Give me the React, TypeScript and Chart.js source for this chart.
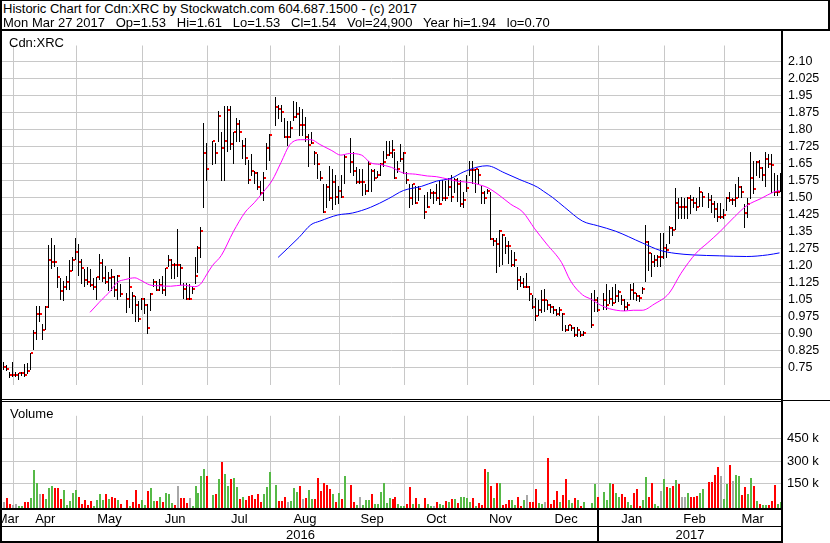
import React, { useEffect, useRef } from "react";
import { Chart, registerables } from "chart.js";

Chart.register(...registerables);

const FONT = 'Arial, "Liberation Sans", Helvetica, sans-serif';

// ---- daily bars (one slot per weekday, null = market holiday) ----
const highs: (number | null)[] = [
  0.777, 0.760, 0.730, 0.777, 0.730, 0.726, 0.730, 0.766, 0.770, 0.815,
  0.915, 1.023, 1.023, 0.942, 1.023, 1.290, 1.320, 1.290, 1.193, 1.145,
  1.132, 1.152, 1.224, 1.240, 1.321, 1.294, 1.227, 1.186, 1.193, 1.186,
  1.145, 1.149, 1.251, 1.227, 1.199, 1.172, 1.186, 1.156, 1.157, 1.118,
  null, 1.078, 1.240, 1.085, 1.064, 1.044, 1.057, 1.057, 1.030, 1.078,
  1.139, 1.132, 1.139, 1.152, 1.190, 1.247, 1.227, 1.213, 1.362, 1.206,
  1.125, 1.125, 1.118, 1.112, 1.240, 1.287, 1.369, 1.829, 1.741, null,
  1.750, 1.741, 1.883, 1.788, 1.903, 1.903, 1.903, 1.788, 1.849, 1.842,
  1.754, 1.761, 1.666, 1.694, 1.619, 1.612, 1.572, 1.612, 1.741, 1.781,
  null, 1.944, 1.910, 1.910, 1.849, 1.836, 1.836, 1.924, 1.920, 1.897,
  1.890, 1.856, 1.782, 1.788, 1.707, 1.694, 1.619, 1.558, 1.558, 1.640,
  1.626, 1.599, 1.551, 1.599, 1.694, null, 1.761, 1.700, 1.633, 1.626,
  1.626, 1.558, 1.660, 1.626, 1.626, 1.619, 1.653, 1.707, 1.748, 1.748,
  1.755, 1.700, 1.660, 1.734, 1.700, 1.612, 1.558, 1.558, 1.551, 1.551,
  null, 1.511, 1.524, 1.538, 1.531, 1.558, 1.578, 1.578, 1.572, 1.585,
  1.599, 1.585, 1.585, 1.578, 1.524, 1.600, 1.660, 1.660, 1.626, 1.626,
  1.551, 1.531, 1.538, 1.525, 1.321, 1.321, 1.355, 1.340, 1.328, 1.308,
  1.267, 1.260, 1.193, 1.152, 1.145, 1.166, 1.112, 1.071, 1.057, 1.048,
  1.091, 1.098, 1.050, 1.030, 1.020, 1.010, 1.017, 0.990, 0.940, 0.940,
  0.940, 0.929, 0.929, 0.910, 0.910, null, null, 1.080, 1.091, 1.060,
  null, 1.078, 1.118, 1.094, 1.105, 1.118, 1.091, 1.070, 1.051, 1.040,
  1.118, 1.121, 1.080, 1.070, 1.105, 1.378, 1.308, 1.254, 1.247, 1.247,
  1.342, 1.342, 1.294, 1.375, 1.369, 1.541, 1.497, 1.504, 1.497, 1.504,
  1.511, 1.504, 1.497, 1.545, 1.524, null, 1.518, 1.511, 1.484, 1.477,
  1.477, 1.450, 1.504, 1.524, 1.497, 1.558, 1.592, 1.551, 1.470, 1.497,
  1.700, 1.660, 1.660, 1.666, 1.633, 1.700, 1.693, 1.693, 1.606, 1.599,
  1.610,
];

const lows: (number | null)[] = [
  0.746, 0.740, 0.710, 0.712, 0.712, 0.699, 0.718, 0.712, 0.726, 0.746,
  0.834, 0.875, 0.956, 0.875, 0.922, 1.017, 1.190, 1.200, 1.105, 1.051,
  1.048, 1.098, 1.098, 1.179, 1.227, 1.159, 1.125, 1.112, 1.118, 1.112,
  1.098, 1.051, 1.139, 1.132, 1.125, 1.091, 1.091, 1.064, 1.051, 1.064,
  null, 0.996, 1.017, 0.990, 0.956, 0.956, 1.010, 0.990, 0.904, 1.003,
  1.112, 1.091, 1.091, 1.078, 1.071, 1.199, 1.145, 1.145, 1.152, 1.118,
  1.057, 1.051, 1.051, 1.078, 1.125, 1.172, 1.240, 1.457, 1.579, null,
  1.646, 1.653, 1.748, 1.578, 1.578, 1.707, 1.714, 1.653, 1.748, 1.748,
  1.673, 1.646, 1.565, 1.599, 1.565, 1.538, 1.511, 1.490, 1.626, 1.666,
  null, 1.819, 1.849, 1.836, 1.768, 1.730, 1.768, 1.842, 1.856, 1.777,
  1.777, 1.748, 1.640, 1.741, 1.646, 1.585, 1.578, 1.436, 1.457, 1.491,
  1.450, 1.470, 1.477, 1.504, 1.565, null, 1.612, 1.599, 1.565, 1.565,
  1.511, 1.517, 1.531, 1.531, 1.578, 1.592, 1.599, 1.640, 1.673, 1.687,
  1.680, 1.585, 1.612, 1.660, 1.606, 1.565, 1.457, 1.470, 1.477, 1.491,
  null, 1.409, 1.457, 1.497, 1.477, 1.490, 1.470, 1.490, 1.491, 1.511,
  1.484, 1.524, 1.484, 1.463, 1.457, 1.530, 1.599, 1.565, 1.524, 1.565,
  1.477, 1.477, 1.518, 1.315, 1.290, 1.170, 1.200, 1.206, 1.254, 1.213,
  1.200, 1.200, 1.098, 1.112, 1.105, 1.105, 1.048, 1.013, 0.959, 0.983,
  0.994, 0.999, 1.010, 0.996, 0.990, 0.980, 0.983, 0.915, 0.910, 0.915,
  0.915, 0.891, 0.888, 0.890, 0.895, null, null, 0.930, 1.000, 1.000,
  null, 1.010, 1.010, 1.037, 1.026, 1.040, 1.044, 1.030, 1.006, 1.010,
  1.051, 1.053, 1.050, 1.045, 1.078, 1.132, 1.179, 1.152, 1.200, 1.200,
  1.200, 1.233, 1.240, 1.301, 1.335, 1.362, 1.409, 1.409, 1.409, 1.409,
  1.430, 1.457, 1.443, 1.464, 1.464, null, 1.457, 1.436, 1.416, 1.396,
  1.409, 1.409, 1.443, 1.484, 1.470, 1.463, 1.504, 1.504, 1.369, 1.416,
  1.497, 1.518, 1.600, 1.592, 1.579, 1.551, 1.633, 1.524, 1.511, 1.511,
  1.530,
];

const closes: (number | null)[] = [
  0.753, 0.745, 0.718, 0.718, 0.718, 0.726, 0.726, 0.718, 0.737, 0.815,
  0.904, 0.986, 0.986, 0.915, 1.017, 1.224, 1.216, 1.216, 1.148, 1.087,
  1.107, 1.128, 1.176, 1.224, 1.258, 1.217, 1.189, 1.136, 1.128, 1.116,
  1.107, 1.148, 1.213, 1.145, 1.128, 1.145, 1.148, 1.094, 1.155, 1.074,
  null, 1.053, 1.107, 1.067, 1.026, 0.965, 1.053, 1.026, 0.925, 1.075,
  1.128, 1.094, 1.116, 1.094, 1.189, 1.224, 1.204, 1.204, 1.204, 1.189,
  1.095, 1.053, 1.053, 1.095, 1.156, 1.278, 1.354, 1.696, 1.626, null,
  1.749, 1.696, 1.859, 1.717, 1.749, 1.887, 1.737, 1.788, 1.825, 1.788,
  1.727, 1.676, 1.579, 1.619, 1.608, 1.545, 1.518, 1.585, 1.717, 1.777,
  null, 1.899, 1.890, 1.879, 1.768, 1.768, 1.806, 1.856, 1.870, 1.818,
  1.818, 1.768, 1.730, 1.741, 1.696, 1.646, 1.585, 1.436, 1.545, 1.497,
  1.568, 1.504, 1.527, 1.504, 1.680, null, 1.656, 1.619, 1.568, 1.568,
  1.568, 1.527, 1.646, 1.619, 1.588, 1.599, 1.646, 1.656, 1.687, 1.696,
  1.710, 1.585, 1.626, 1.669, 1.696, 1.578, 1.497, 1.558, 1.477, 1.538,
  null, 1.436, 1.457, 1.518, 1.518, 1.497, 1.470, 1.497, 1.497, 1.547,
  1.504, 1.578, 1.561, 1.470, 1.491, 1.541, 1.622, 1.622, 1.626, 1.599,
  1.518, 1.497, 1.527, 1.317, 1.308, 1.297, 1.354, 1.335, 1.288, 1.288,
  1.202, 1.224, 1.135, 1.125, 1.107, 1.107, 1.075, 1.017, 0.976, 1.006,
  1.047, 1.047, 1.026, 1.017, 1.006, 0.986, 1.006, 0.986, 0.915, 0.936,
  0.925, 0.895, 0.915, 0.895, 0.902, null, null, 0.940, 1.047, 1.006,
  null, 1.047, 1.026, 1.053, 1.033, 1.064, 1.084, 1.047, 1.017, 1.026,
  1.094, 1.078, 1.067, 1.055, 1.095, 1.304, 1.256, 1.216, 1.224, 1.236,
  1.236, 1.278, 1.267, 1.367, 1.355, 1.477, 1.457, 1.457, 1.457, 1.497,
  1.490, 1.477, 1.457, 1.524, 1.504, null, 1.490, 1.470, 1.450, 1.416,
  1.416, 1.423, 1.497, 1.490, 1.490, 1.497, 1.547, 1.524, 1.430, 1.470,
  1.588, 1.538, 1.656, 1.629, 1.599, 1.669, 1.649, 1.642, 1.524, 1.524,
  1.540,
];

// volume in thousands of shares
const volumeK: (number | null)[] = [
  25, 54, 14, 10, 16, 2, 2, 25, 25, 54,
  239, 157, 78, 78, 49, 122, 136, 118, 118, 49,
  107, 10, 35, 89, 107, 64, 14, 41, 6, 35,
  2, 41, 78, 41, 83, 49, 60, 54, 41, 16,
  null, 41, 2, 29, 107, 16, 39, 10, 99, 122,
  35, 35, 58, 29, 87, 78, 19, 10, 136, 54,
  54, 19, 54, 1, 136, 87, 204, 250, 198, null,
  72, 81, 180, 297, 215, 136, 180, 186, 128, 45,
  64, 41, 70, 74, 45, 81, 25, 81, 128, 227,
  null, 142, 35, 35, 64, 29, 35, 122, 93, 134,
  49, 54, 107, 49, 49, 186, 99, 157, 142, 111,
  81, 29, 87, 49, 198, null, 138, 29, 10, 64,
  10, 41, 39, 81, 14, 14, 97, 157, 23, 52,
  47, 64, 12, 2, 2, 14, 128, 12, 54, 14,
  null, 52, 16, 1, 1, 29, 16, 6, 35, 25,
  45, 45, 19, 58, 58, 54, 25, 52, 2, 19,
  6, 250, 227, 134, 52, 151, 151, 6, 12, 41,
  41, 10, 64, 2, 41, 76, 29, 25, 116, 21,
  17, 29, 320, 12, 39, 99, 29, 76, 180, 41,
  19, 56, 41, 1, 29, null, null, 23, 146, 58,
  null, 93, 41, 155, 146, 87, 58, 81, 58, 29,
  6, 87, 116, 2, 41, 192, 64, 157, 17, 2,
  99, 180, 128, 122, 134, 177, 146, 58, 58, 87,
  64, 64, 70, 87, 116, null, 163, 163, 210, 262,
  204, 47, 146, 274, 169, 210, 204, 76, 128, 81,
  186, 134, 35, 12, 6, 6, 6, 35, 140, 12,
  25,
];

// u = close up, d = close down, n = unchanged, - = no trading
const volumeDir =
  "nddnnuuddu" + "uunduuuddd" + "uuuuuddddd" + "uuuududdud" +
  "-duddduudu" + "ududuuudnd" + "ddnuuuuud-" + "ududuuduud" +
  "udddddduuu" + "-udddnuuud" + "nduudddddd" + "ududu-ddun" +
  "uuuduuuuuu" + "dduuuddudu" + "-duunduudu" + "duduuuudud" +
  "ddudududdd" + "uuddundddu" + "undddduddu" + "ududu--uud" +
  "-uuuduuddu" + "uddduudduu" + "nudududnnu" + "ddduu-dddd" +
  "nuudnuuddu" + "ududuuddduu";

// moving averages (read at sample days)
const fastMaSlots = [29, 32, 36, 38, 41, 44, 46, 49, 52, 56, 60, 64, 66, 68, 70, 73, 77, 81, 84, 87, 90, 93, 96, 100, 103, 106, 110, 113, 116, 120, 123, 126, 130, 134, 138, 142, 145, 149, 152, 157, 160, 162, 166, 170, 174, 178, 182, 187, 190, 194, 197, 200, 203, 208, 211, 214, 218, 223, 227, 232, 236, 240, 245, 249, 254, 258, 260];
const fastMaValues = [0.994, 1.037, 1.091, 1.125, 1.139, 1.146, 1.135, 1.115, 1.111, 1.109, 1.114, 1.107, 1.118, 1.159, 1.200, 1.245, 1.349, 1.436, 1.477, 1.524, 1.575, 1.655, 1.734, 1.755, 1.755, 1.734, 1.707, 1.687, 1.694, 1.687, 1.653, 1.646, 1.633, 1.608, 1.603, 1.595, 1.592, 1.581, 1.572, 1.565, 1.554, 1.545, 1.511, 1.470, 1.436, 1.362, 1.295, 1.213, 1.132, 1.071, 1.051, 1.026, 1.010, 1.000, 1.003, 1.003, 1.030, 1.078, 1.166, 1.254, 1.301, 1.349, 1.416, 1.464, 1.497, 1.524, 1.531];
const slowMaSlots = [92, 99, 103, 106, 112, 117, 123, 129, 134, 140, 145, 150, 154, 159, 162, 168, 173, 179, 181, 184, 188, 194, 199, 205, 214, 220, 225, 231, 240, 249, 256, 260];
const slowMaValues = [1.236, 1.324, 1.380, 1.396, 1.423, 1.432, 1.457, 1.495, 1.531, 1.549, 1.572, 1.585, 1.612, 1.635, 1.640, 1.608, 1.579, 1.545, 1.527, 1.500, 1.457, 1.396, 1.376, 1.352, 1.300, 1.267, 1.254, 1.247, 1.243, 1.240, 1.247, 1.256];

// axes
const priceTicks = [0.75, 0.825, 0.9, 0.975, 1.05, 1.125, 1.2, 1.275, 1.35, 1.425, 1.5, 1.575, 1.65, 1.725, 1.8, 1.875, 1.95, 2.025, 2.1];
const priceTickLabels = ["0.75", "0.825", "0.90", "0.975", "1.05", "1.125", "1.20", "1.275", "1.35", "1.425", "1.50", "1.575", "1.65", "1.725", "1.80", "1.875", "1.95", "2.025", "2.10"];
const volumeTicks = [150, 300, 450];
const volumeTickLabels = ["150 k", "300 k", "450 k"];
const monthLabels = ["Mar", "Apr", "May", "Jun", "Jul", "Aug", "Sep", "Oct", "Nov", "Dec", "Jan", "Feb", "Mar"];
const monthStart = [0, 4, 25, 47, 69, 90, 113, 135, 156, 178, 200, 222, 242];
const yearLabels = ["2016", "2017"];
const yearStart = [0, 200];

const SLOTS = highs.length;
const PRICE_MIN = 0.6757;
const PRICE_MAX = 2.1703;
const VOL_MIN = -12.5;
const VOL_MAX = 602.6;
const GRID = "#c8c8c8";
const DIR_COLOR: Record<string, string> = { u: "#56b947", d: "#ff0000", n: "#a8a8a8" };

const xScale = () => ({
  type: "linear" as const,
  min: -0.5,
  max: SLOTS - 0.5,
  afterBuildTicks: (s: any) => {
    s.ticks = monthStart.slice(1).map((v) => ({ value: v - 0.5 }));
  },
  afterFit: (s: any) => {
    s.height = 0;
  },
  ticks: { display: false, autoSkip: false },
  grid: { color: GRID, lineWidth: 1, drawTicks: false },
  border: { display: false },
});

const barsPlugin = {
  id: "hlcBars",
  beforeDatasetsDraw(chart: any) {
    const { ctx, scales } = chart;
    const x = scales.x;
    const y = scales.y;
    ctx.save();
    for (let i = 0; i < SLOTS; i++) {
      const h = highs[i];
      const l = lows[i];
      const c = closes[i];
      if (h == null || l == null || c == null) continue;
      const px = Math.round(x.getPixelForValue(i));
      const yh = Math.round(y.getPixelForValue(h));
      const yl = Math.round(y.getPixelForValue(l));
      const yc = Math.round(y.getPixelForValue(c));
      ctx.fillStyle = "#000";
      ctx.fillRect(px, yh, 1, Math.max(1, yl - yh + 1));
      ctx.fillStyle = "#ff0000";
      ctx.fillRect(px + 1, yc - 1, 2, 2);
    }
    ctx.restore();
  },
};

const volumePlugin = {
  id: "volumeBars",
  beforeDatasetsDraw(chart: any) {
    const { ctx, scales } = chart;
    const x = scales.x;
    const y = scales.y;
    const base = Math.round(y.getPixelForValue(VOL_MIN));
    ctx.save();
    for (let i = 0; i < SLOTS; i++) {
      const v = volumeK[i];
      if (v == null) continue;
      const px = Math.round(x.getPixelForValue(i));
      const top = Math.round(y.getPixelForValue(v));
      ctx.fillStyle = DIR_COLOR[volumeDir[i]] || DIR_COLOR.n;
      ctx.fillRect(px, top, 2, Math.max(1, base - top));
    }
    ctx.restore();
  },
};

const dateLabelPlugin = {
  id: "dateLabels",
  afterDraw(chart: any) {
    const { ctx, chartArea, scales } = chart;
    const x = scales.x;
    const end = SLOTS - 0.5;
    ctx.save();
    ctx.beginPath();
    ctx.rect(chartArea.left, chartArea.bottom, chartArea.right - chartArea.left, chart.height - chartArea.bottom);
    ctx.clip();
    ctx.fillStyle = "#000";
    ctx.textAlign = "center";
    ctx.textBaseline = "alphabetic";
    ctx.font = `13px ${FONT}`;
    monthLabels.forEach((m, i) => {
      const a = monthStart[i] - 0.5;
      const b = i + 1 < monthStart.length ? monthStart[i + 1] - 0.5 : end;
      ctx.fillText(m, x.getPixelForValue((a + b) / 2), chartArea.bottom + 15);
    });
    yearLabels.forEach((yl, i) => {
      const a = yearStart[i] - 0.5;
      const b = i + 1 < yearStart.length ? yearStart[i + 1] - 0.5 : end;
      ctx.fillText(yl, x.getPixelForValue((a + b) / 2), chartArea.bottom + 31);
    });
    for (let k = 1; k < yearStart.length; k++) {
      const px = Math.floor(x.getPixelForValue(yearStart[k] - 0.5)) - 1;
      ctx.fillRect(px, chartArea.bottom, 2, chart.height - chartArea.bottom);
    }
    ctx.restore();
  },
};

function priceConfig(): any {
  return {
    type: "line",
    data: {
      datasets: [
        {
          label: "Fast MA",
          data: fastMaSlots.map((s, i) => ({ x: s, y: fastMaValues[i] })),
          borderColor: "#ff00ff",
          borderWidth: 1,
          pointRadius: 0,
          cubicInterpolationMode: "monotone",
          fill: false,
        },
        {
          label: "Slow MA",
          data: slowMaSlots.map((s, i) => ({ x: s, y: slowMaValues[i] })),
          borderColor: "#0000ff",
          borderWidth: 1,
          pointRadius: 0,
          cubicInterpolationMode: "monotone",
          fill: false,
        },
      ],
    },
    options: {
      animation: false,
      responsive: false,
      devicePixelRatio: 1,
      events: [],
      layout: { padding: { left: 2, right: 0, top: 0, bottom: 0 } },
      plugins: { legend: { display: false }, tooltip: { enabled: false } },
      scales: {
        x: xScale(),
        y: {
          type: "linear",
          position: "right",
          min: PRICE_MIN,
          max: PRICE_MAX,
          afterBuildTicks: (s: any) => {
            s.ticks = priceTicks.map((v) => ({ value: v }));
          },
          afterFit: (s: any) => {
            s.width = 49;
          },
          ticks: {
            autoSkip: false,
            padding: 7,
            color: "#000",
            font: { family: FONT, size: 12.5 },
            callback: (_v: any, i: number) => priceTickLabels[i],
          },
          grid: { color: GRID, lineWidth: 1, drawTicks: false },
          border: { display: false },
        },
      },
    },
    plugins: [barsPlugin],
  };
}

function volumeConfig(): any {
  return {
    type: "line",
    data: { datasets: [] },
    options: {
      animation: false,
      responsive: false,
      devicePixelRatio: 1,
      events: [],
      layout: { padding: { left: 2, right: 0, top: 0, bottom: 35 } },
      plugins: { legend: { display: false }, tooltip: { enabled: false } },
      scales: {
        x: xScale(),
        y: {
          type: "linear",
          position: "right",
          min: VOL_MIN,
          max: VOL_MAX,
          afterBuildTicks: (s: any) => {
            s.ticks = volumeTicks.map((v) => ({ value: v }));
          },
          afterFit: (s: any) => {
            s.width = 49;
          },
          ticks: {
            autoSkip: false,
            padding: 6,
            color: "#000",
            font: { family: FONT, size: 13 },
            callback: (_v: any, i: number) => volumeTickLabels[i],
          },
          grid: { color: GRID, lineWidth: 1, drawTicks: false },
          border: { display: false },
        },
      },
    },
    plugins: [volumePlugin, dateLabelPlugin],
  };
}

const line = (left: number, top: number, width: number, height: number): React.CSSProperties => ({
  position: "absolute",
  left,
  top,
  width,
  height,
  background: "#000",
});

const textStyle = (left: number, top: number): React.CSSProperties => ({
  position: "absolute",
  left,
  top,
  fontSize: 13,
  lineHeight: "13px",
  whiteSpace: "pre",
  fontFamily: FONT,
  color: "#000",
});

export default function App() {
  const priceRef = useRef<HTMLCanvasElement>(null);
  const volRef = useRef<HTMLCanvasElement>(null);

  useEffect(() => {
    const pc = new Chart(priceRef.current as HTMLCanvasElement, priceConfig());
    const vc = new Chart(volRef.current as HTMLCanvasElement, volumeConfig());
    return () => {
      pc.destroy();
      vc.destroy();
    };
  }, []);

  return (
    <div
      style={{
        position: "fixed",
        left: 0,
        top: 0,
        width: 830,
        height: 543,
        background: "#fff",
        overflow: "hidden",
      }}
    >
      <canvas
        ref={priceRef}
        width={830}
        height={368}
        style={{ position: "absolute", left: 0, top: 31, display: "block" }}
      />
      <canvas
        ref={volRef}
        width={830}
        height={141}
        style={{ position: "absolute", left: 0, top: 402, display: "block" }}
      />

      <div style={textStyle(3, 2.3)}>Historic Chart for Cdn:XRC by Stockwatch.com 604.687.1500 - (c) 2017</div>
      <div style={textStyle(3, 15.7)}>
        {"Mon Mar 27 2017   Op=1.53   Hi=1.61   Lo=1.53   Cl=1.54   Vol=24,900   Year hi=1.94   lo=0.70"}
      </div>
      <div style={textStyle(9, 35.7)}>Cdn:XRC</div>
      <div style={textStyle(10, 406.7)}>Volume</div>

      {/* frame */}
      <div style={line(0, 0, 830, 1)} />
      <div style={line(828, 0, 2, 31)} />
      <div style={line(0, 29, 830, 2)} />
      <div style={line(0, 0, 2, 543)} />
      <div style={line(781, 31, 2, 512)} />
      <div style={line(0, 399, 781, 1)} />
      <div style={line(0, 401, 781, 1)} />
      <div style={line(783, 400, 47, 1)} />
      <div style={line(0, 508, 783, 2)} />
      <div style={line(0, 526, 783, 1)} />
      <div style={line(0, 541, 783, 2)} />
    </div>
  );
}
